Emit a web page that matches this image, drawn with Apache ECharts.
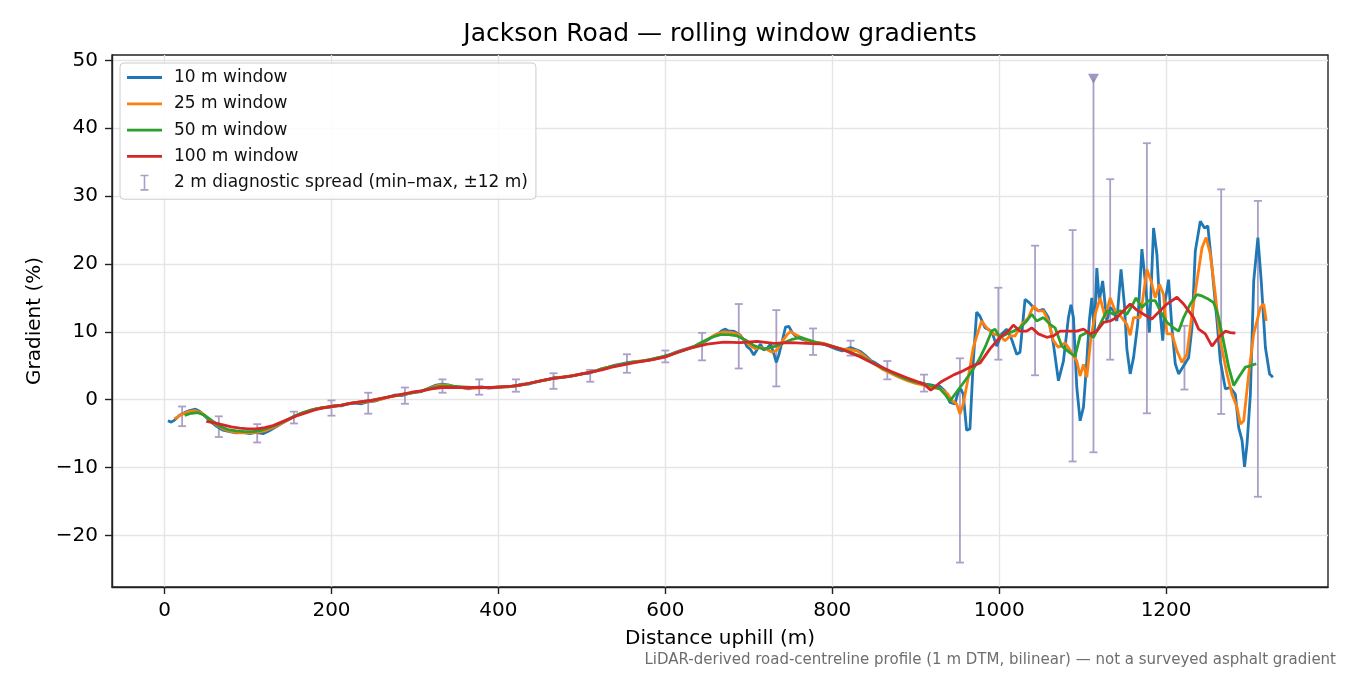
<!DOCTYPE html>
<html>
<head>
<meta charset="utf-8">
<title>Jackson Road gradients</title>
<script src="https://cdn.jsdelivr.net/npm/echarts@6/dist/echarts.min.js"></script>
<style>
  html, body { margin: 0; padding: 0; background: #fff; }
  #chart { width: 1350px; height: 675px; }
</style>
</head>
<body>
<div id="chart"></div>
<script>
// rolling window gradients, [distance m, gradient %]
var win10 = [[4,-3.1],[8,-3.3],[12,-3.0],[18,-2.3],[24,-1.9],[30,-1.6],[37,-1.4],[42,-1.7],[48,-2.4],[55,-3.2],[62,-3.9],[70,-4.5],[78,-4.7],[86,-4.9],[94,-4.8],[102,-5.0],[110,-4.8],[118,-5.0],[125,-4.6],[132,-4.1],[140,-3.5],[148,-3.0],[156,-2.4],[164,-2.0],[172,-1.7],[180,-1.4],[188,-1.2],[196,-1.1],[204,-0.9],[212,-0.9],[220,-0.6],[228,-0.5],[236,-0.6],[244,-0.3],[252,-0.2],[260,0.1],[268,0.4],[276,0.7],[284,0.6],[292,0.9],[300,1.1],[308,1.2],[316,1.7],[324,2.1],[332,2.3],[340,2.2],[348,1.9],[356,1.8],[364,1.6],[372,1.8],[380,1.9],[388,1.7],[396,1.8],[404,1.9],[412,1.9],[420,2.0],[428,2.3],[436,2.3],[444,2.6],[452,2.8],[460,3.0],[468,3.3],[476,3.3],[484,3.4],[492,3.6],[500,3.8],[508,3.9],[516,4.2],[524,4.6],[532,4.8],[540,5.1],[548,5.3],[556,5.5],[564,5.6],[572,5.7],[580,5.8],[588,6.1],[596,6.3],[604,6.6],[612,7.0],[620,7.3],[628,7.6],[636,7.9],[644,8.3],[652,8.9],[658,9.4],[664,9.8],[668,10.2],[672,10.4],[676,10.1],[682,10.1],[686,9.8],[690,9.5],[694,8.8],[698,7.8],[702,7.4],[706,6.6],[710,7.4],[714,8.2],[718,7.3],[722,7.6],[726,8.2],[730,6.8],[733,5.5],[736,6.6],[740,8.6],[744,10.7],[748,10.8],[752,9.9],[756,9.4],[760,9.1],[766,8.8],[772,8.6],[778,8.4],[786,8.3],[794,8.0],[800,7.7],[806,7.4],[812,7.2],[818,7.5],[822,7.7],[828,7.4],[834,7.1],[840,6.5],[846,5.8],[852,5.4],[858,4.9],[864,4.4],[870,4.0],[876,3.6],[882,3.4],[888,3.2],[894,2.9],[900,2.6],[906,2.5],[912,2.3],[918,2.2],[924,2.0],[929,2.0],[935,1.3],[941,-0.4],[947,-0.6],[951,1.2],[954,1.6],[957,0.8],[961,-4.5],[965,-4.3],[969,5.7],[973,12.9],[977,12.3],[983,10.6],[991,10.1],[997,7.9],[1003,9.7],[1009,10.4],[1015,8.9],[1021,6.7],[1025,7.0],[1031,14.8],[1036,14.3],[1041,13.6],[1047,13.1],[1053,13.3],[1059,12.1],[1065,8.2],[1071,2.8],[1077,5.7],[1083,12.1],[1086,14.0],[1089,12.1],[1093,1.8],[1097,-3.1],[1101,-1.1],[1105,5.7],[1108,11.6],[1111,15.0],[1114,9.9],[1117,19.4],[1120,14.6],[1124,17.5],[1129,11.6],[1133,13.6],[1137,13.1],[1141,11.6],[1146,19.2],[1150,14.1],[1153,7.5],[1157,3.8],[1161,6.2],[1166,11.2],[1171,22.2],[1175,17.5],[1180,9.9],[1185,25.3],[1189,21.4],[1193,12.6],[1196,8.7],[1199,14.6],[1203,17.7],[1207,10.6],[1211,5.3],[1215,3.8],[1221,5.0],[1227,6.2],[1231,10.6],[1235,21.9],[1241,26.3],[1246,25.3],[1250,25.6],[1255,19.5],[1261,11.6],[1265,5.7],[1271,1.6],[1277,1.8],[1283,0.8],[1287,-4.1],[1291,-6.0],[1294,-9.9],[1297,-6.5],[1301,0.8],[1305,17.5],[1310,23.9],[1314,17.5],[1319,7.7],[1324,3.8],[1328,3.3]];

var win25 = [[12,-2.8],[20,-2.2],[28,-1.8],[36,-1.6],[44,-1.9],[52,-2.7],[60,-3.5],[70,-4.3],[80,-4.7],[90,-4.9],[100,-4.9],[110,-4.8],[120,-4.6],[130,-4.1],[140,-3.5],[150,-2.8],[160,-2.2],[170,-1.8],[180,-1.4],[190,-1.2],[200,-1.0],[212,-0.8],[224,-0.5],[236,-0.4],[248,-0.2],[260,0.1],[272,0.5],[284,0.7],[296,1.0],[308,1.3],[320,1.8],[330,2.2],[340,2.1],[350,1.9],[360,1.7],[372,1.7],[384,1.8],[396,1.8],[408,1.9],[420,2.0],[432,2.3],[444,2.6],[456,2.9],[468,3.2],[480,3.4],[492,3.6],[504,3.9],[516,4.2],[528,4.7],[540,5.0],[552,5.3],[564,5.6],[576,5.8],[588,6.0],[600,6.3],[612,6.9],[624,7.4],[636,7.9],[648,8.7],[660,9.6],[670,10.0],[680,9.9],[688,9.6],[696,8.6],[702,7.9],[708,7.5],[714,7.7],[720,7.5],[728,7.0],[734,7.3],[740,8.6],[746,9.6],[750,10.05],[756,9.6],[762,9.2],[770,8.7],[780,8.5],[790,8.3],[800,7.9],[810,7.5],[820,7.4],[830,7.2],[840,6.3],[850,5.3],[860,4.5],[870,3.9],[880,3.3],[890,2.8],[900,2.4],[910,2.1],[918,1.8],[930,1.6],[938,0.9],[944,-0.2],[949,-0.6],[953,-2.1],[957,-0.6],[963,3.3],[969,7.7],[975,10.1],[979,11.6],[985,10.6],[993,9.7],[1001,9.4],[1007,8.7],[1013,9.4],[1019,9.4],[1027,11.1],[1035,12.1],[1041,13.8],[1047,13.1],[1053,13.1],[1059,11.6],[1065,8.7],[1071,7.7],[1079,8.4],[1087,6.9],[1093,5.7],[1097,3.5],[1101,5.2],[1105,3.3],[1110,9.2],[1115,12.6],[1121,15.0],[1127,12.1],[1133,15.0],[1139,13.1],[1147,12.1],[1153,11.1],[1157,9.5],[1161,12.1],[1169,12.1],[1177,19.2],[1182,17.5],[1187,15.0],[1192,17.0],[1197,15.5],[1201,9.7],[1207,9.7],[1213,7.2],[1219,5.5],[1225,6.7],[1231,12.6],[1237,17.5],[1243,22.4],[1248,23.9],[1253,21.4],[1259,15.5],[1265,8.7],[1273,3.8],[1279,0.8],[1285,-1.1],[1289,-3.6],[1293,-3.1],[1299,3.8],[1305,9.7],[1313,13.6],[1317,14.1],[1320,11.6]];

var win50 = [[24,-2.3],[32,-2.0],[40,-1.9],[48,-2.3],[56,-3.0],[66,-3.9],[76,-4.4],[86,-4.6],[96,-4.7],[106,-4.7],[116,-4.5],[126,-4.1],[136,-3.6],[146,-3.0],[156,-2.4],[166,-1.9],[176,-1.5],[188,-1.2],[200,-1.0],[212,-0.8],[224,-0.5],[236,-0.3],[248,-0.1],[260,0.2],[272,0.5],[284,0.8],[296,1.0],[308,1.3],[320,1.7],[332,2.0],[344,2.0],[356,1.9],[368,1.8],[380,1.8],[392,1.8],[404,1.9],[416,2.0],[428,2.2],[440,2.5],[452,2.8],[464,3.1],[476,3.3],[488,3.5],[500,3.8],[512,4.1],[524,4.5],[536,4.9],[548,5.2],[560,5.5],[572,5.7],[584,6.0],[596,6.3],[608,6.7],[620,7.2],[632,7.7],[644,8.5],[656,9.2],[666,9.6],[676,9.6],[686,9.4],[696,8.8],[706,8.0],[716,7.5],[724,7.6],[732,7.9],[742,8.4],[752,8.9],[762,9.2],[772,8.8],[782,8.4],[796,8.0],[810,7.5],[822,7.0],[834,6.4],[846,5.6],[858,4.8],[870,4.1],[882,3.4],[894,2.8],[906,2.4],[918,2.1],[929,1.6],[935,0.8],[941,-0.2],[947,0.8],[953,1.8],[959,2.8],[965,3.8],[975,5.7],[983,7.7],[991,10.1],[995,10.4],[1001,9.2],[1009,9.7],[1017,10.1],[1025,10.6],[1033,11.6],[1039,12.6],[1045,11.6],[1053,12.1],[1061,11.1],[1067,10.6],[1075,7.9],[1085,6.9],[1091,6.4],[1097,9.4],[1105,9.9],[1113,9.2],[1121,11.1],[1129,13.1],[1137,12.6],[1145,13.1],[1153,12.6],[1159,13.8],[1164,15.0],[1171,13.6],[1179,14.6],[1187,14.6],[1195,12.6],[1201,11.4],[1209,10.6],[1215,10.1],[1221,12.1],[1229,14.1],[1237,15.5],[1243,15.3],[1251,14.8],[1257,14.3],[1262,12.6],[1267,9.7],[1275,4.8],[1281,2.1],[1287,3.3],[1295,4.8],[1301,5.0],[1308,5.3]];

var win100 = [[50,-3.2],[60,-3.4],[70,-3.7],[80,-4.0],[90,-4.2],[100,-4.3],[110,-4.3],[120,-4.1],[130,-3.8],[140,-3.3],[150,-2.8],[160,-2.3],[170,-1.9],[180,-1.5],[190,-1.2],[200,-1.0],[212,-0.8],[224,-0.5],[236,-0.3],[248,-0.1],[260,0.2],[272,0.5],[284,0.8],[296,1.1],[308,1.3],[320,1.6],[332,1.8],[344,1.8],[356,1.8],[368,1.8],[380,1.8],[392,1.8],[404,1.9],[416,2.0],[428,2.2],[440,2.5],[452,2.8],[464,3.1],[476,3.3],[488,3.5],[500,3.8],[512,4.1],[524,4.4],[536,4.8],[548,5.1],[560,5.4],[570,5.6],[585,5.9],[600,6.3],[615,7.0],[630,7.6],[650,8.2],[670,8.5],[690,8.4],[710,8.6],[730,8.3],[750,8.4],[770,8.3],[790,8.2],[810,7.5],[830,6.5],[850,5.3],[870,4.2],[890,3.2],[910,2.3],[918,1.4],[930,2.6],[946,3.7],[954,4.1],[965,4.8],[977,5.4],[989,7.5],[1001,9.2],[1011,10.1],[1017,11.0],[1025,10.1],[1033,10.1],[1039,10.6],[1047,9.7],[1057,9.2],[1065,9.4],[1073,10.1],[1085,10.1],[1093,10.1],[1101,10.4],[1109,9.7],[1117,10.1],[1125,11.4],[1133,11.6],[1141,12.1],[1149,13.1],[1157,14.1],[1165,13.2],[1173,12.6],[1183,11.9],[1191,12.9],[1201,14.1],[1213,15.1],[1221,14.1],[1227,13.1],[1233,12.1],[1239,10.4],[1247,9.7],[1255,7.9],[1263,9.2],[1271,10.1],[1277,9.9],[1283,9.8]];

// 2 m diagnostic spread (min / max within +-12 m)
var spreadX  = [21, 65, 111, 155, 200, 244, 288, 333, 377, 421, 466, 510, 554, 600, 644, 688, 733, 777, 822, 866, 910, 953, 999, 1043, 1088, 1133, 1177, 1222, 1266, 1310];
var spreadLo = [-3.9, -5.5, -6.3, -3.5, -2.35, -2.06, -0.6, 1.03, 0.74, 1.18, 1.6, 2.65, 3.97, 5.5, 5.8, 4.6, 1.96, 6.6, 6.5, 3.0, 1.2, -24.0, 5.9, 3.6, -9.1, 5.9, -2.0, 1.5, -2.1, -14.3];
var spreadHi = [-1.0, -2.45, -3.6, -1.76, -0.1, 1.03, 1.8, 3.0, 3.0, 3.0, 3.9, 4.4, 6.7, 7.25, 9.85, 14.1, 13.2, 10.5, 8.7, 5.7, 3.7, 6.1, 16.5, 22.7, 25.0, 32.5, 37.8, 10.9, 31.0, 29.3];
// one spread runs off the top of the axes, marked with a triangle
var flagX = [1113];
var flagLo = [-7.75];
var flagMark = [47.3];

var xTicks = [0, 200, 400, 600, 800, 1000, 1200];
var yTicks = [-20, -10, 0, 10, 20, 30, 40, 50];

var names = ['10 m window', '25 m window', '50 m window', '100 m window'];
var spreadName = '2 m diagnostic spread (min\u2013max, \u00b112 m)';
var barColor = '#ab9fc8';
var font = 'DejaVu Sans';
var lineIcon = 'path://M0,0H35V2.8H0Z';

var chart = echarts.init(document.getElementById('chart'));

function errBar(params, api) {
    var x = api.value(0);
    var lo = api.coord([x, api.value(1)]);
    var hi = api.coord([x, api.value(2)]);
    var st = {stroke: barColor, lineWidth: 1.8};
    var kids = [
        {type: 'line', shape: {x1: lo[0], y1: lo[1], x2: hi[0], y2: hi[1]}, style: st},
        {type: 'line', shape: {x1: lo[0] - 4, y1: lo[1], x2: lo[0] + 4, y2: lo[1]}, style: st}
    ];
    if (params.seriesName === spreadName) {
        kids.push({type: 'line', shape: {x1: hi[0] - 4, y1: hi[1], x2: hi[0] + 4, y2: hi[1]}, style: st});
    }
    return {type: 'group', children: kids};
}

function lineSeries(name, data, color, z) {
    return {
        name: name, type: 'line', data: data, symbol: 'none', showSymbol: false, z: z,
        lineStyle: {color: color, width: 2.8},
        itemStyle: {color: color}
    };
}

function numLabel(v) {
    return v < 0 ? '\u2212' + Math.abs(v) : String(v);
}

var option = {
    animation: false,
    backgroundColor: '#fff',
    grid: {left: 112, right: 22, top: 55, bottom: 88, show: true, borderColor: '#222', borderWidth: 1.4, backgroundColor: 'transparent'},
    legend: {
        left: 120, top: 63, orient: 'vertical',
        data: [
            {name: names[0], icon: lineIcon}, {name: names[1], icon: lineIcon},
            {name: names[2], icon: lineIcon}, {name: names[3], icon: lineIcon},
            {name: spreadName, icon: 'path://M0,0H8V1.6H4.8V14.4H8V16H0V14.4H3.2V1.6H0Z'}
        ],
        itemWidth: 35, itemHeight: 16, itemGap: 9.3,
        padding: [6, 8, 8, 7],
        backgroundColor: 'rgba(255,255,255,0.85)',
        borderColor: '#cccccc', borderWidth: 1, borderRadius: 4,
        textStyle: {fontFamily: font, fontSize: 17, color: '#111', padding: [0, 0, 0, 7], lineHeight: 16}
    },
    xAxis: {
        type: 'value', min: -63, max: 1394, splitNumber: 7,
        name: 'Distance uphill (m)', nameLocation: 'middle', nameGap: 42,
        nameTextStyle: {fontFamily: font, fontSize: 20, color: '#000'},
        axisLine: {show: true, onZero: false, lineStyle: {color: '#222', width: 1.4}},
        axisTick: {show: true, length: 7, customValues: xTicks, lineStyle: {color: '#222', width: 1.4}},
        axisLabel: {customValues: xTicks, margin: 14, fontFamily: font, fontSize: 20, color: '#000', formatter: numLabel},
        splitLine: {show: true, lineStyle: {color: '#e5e5e5', width: 1.4}}
    },
    yAxis: {
        type: 'value', min: -27.6, max: 50.8, splitNumber: 8,
        name: 'Gradient (%)', nameLocation: 'middle', nameGap: 66, nameRotate: 90,
        nameTextStyle: {fontFamily: font, fontSize: 20, color: '#000'},
        axisLine: {show: true, onZero: false, lineStyle: {color: '#222', width: 1.4}},
        axisTick: {show: true, length: 7, customValues: yTicks, lineStyle: {color: '#222', width: 1.4}},
        axisLabel: {customValues: yTicks, margin: 14, fontFamily: font, fontSize: 20, color: '#000', formatter: numLabel},
        splitLine: {show: true, lineStyle: {color: '#e5e5e5', width: 1.4}}
    },
    graphic: [
        {type: 'text', x: 720, y: 34, style: {text: 'Jackson Road \u2014 rolling window gradients', font: '25px "DejaVu Sans"', fill: '#000', textAlign: 'center', textVerticalAlign: 'middle'}},
        {type: 'text', x: 1336, y: 660, style: {text: 'LiDAR-derived road-centreline profile (1 m DTM, bilinear) \u2014 not a surveyed asphalt gradient', font: '15px "DejaVu Sans"', fill: '#6e6e6e', textAlign: 'right', textVerticalAlign: 'middle'}}
    ],
    series: [
        {
            name: spreadName, type: 'custom', z: 2,
            renderItem: errBar,
            itemStyle: {color: barColor},
            encode: {x: 0, y: [1, 2]},
            data: spreadX.map(function (x, i) { return [x, spreadLo[i], spreadHi[i]]; })
        },
        {
            name: 'flagged', type: 'custom', z: 2,
            renderItem: errBar,
            itemStyle: {color: barColor},
            encode: {x: 0, y: [1, 2]},
            data: flagX.map(function (x, i) { return [x, flagLo[i], flagMark[i]]; })
        },
        {
            name: 'flag marker', type: 'scatter', z: 3,
            symbol: 'triangle', symbolRotate: 180, symbolSize: [11, 10],
            itemStyle: {color: '#8a7cb0'},
            data: flagX.map(function (x, i) { return [x, flagMark[i]]; })
        },
        lineSeries(names[0], win10, '#1f77b4', 4),
        lineSeries(names[1], win25, '#ff7f0e', 5),
        lineSeries(names[2], win50, '#2ca02c', 6),
        lineSeries(names[3], win100, '#d62728', 7)
    ]
};

chart.setOption(option);
</script>
</body>
</html>
